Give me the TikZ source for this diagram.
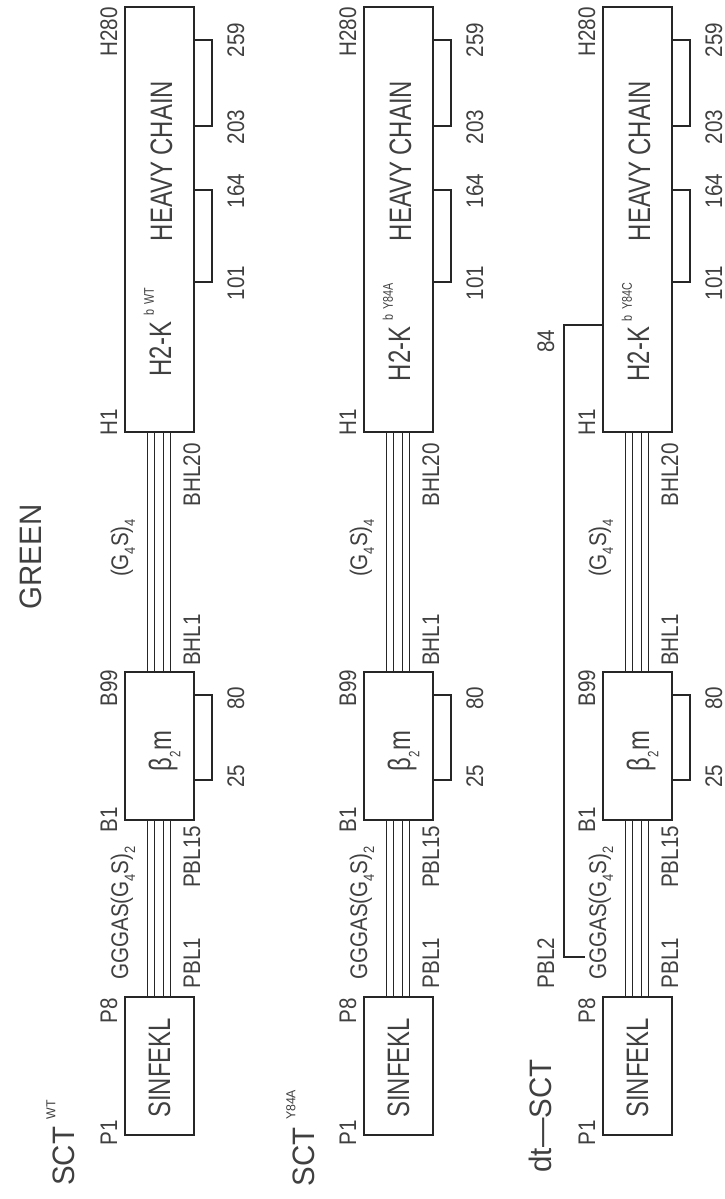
\documentclass[tikz,border=0pt]{standalone}
\usepackage{fontspec}
\setmainfont{Liberation Sans}
\usepackage{graphicx}
\newcommand{\sml}[1]{\scalebox{0.86}[1]{\fontsize{24}{24}\selectfont #1}}
\newcommand{\mnl}[1]{\scalebox{0.77}[1]{\fontsize{31}{31}\selectfont #1}}
\newcommand{\ttl}[1]{\scalebox{0.95}[1]{\fontsize{31}{31}\selectfont #1}}
\newcommand{\lowr}[1]{\raisebox{-0.3em}{\fontsize{15}{15}\selectfont #1}}
\newcommand{\uppr}[1]{\raisebox{0.55em}{\fontsize{14}{14}\selectfont #1}}
\begin{document}
\begin{tikzpicture}[x=1pt,y=-1pt,
  lbl/.style={rotate=90, inner sep=0pt, anchor=base, text=black!75},
  box/.style={draw=black!85, line width=1.3pt, inner sep=0pt},
  lnk/.style={draw=black!85, line width=1pt}]
\useasboundingbox (0,0) rectangle (725,1199);
\foreach \r/\L/\mut in {1/125/WT,2/364/Y84A,3/603/Y84C}{
  \node[box, minimum width=69pt, minimum height=425pt] (hc\r) at (\L+34.5,219.5) {};
  \node[box, minimum width=69pt, minimum height=148pt] (bm\r) at (\L+34.5,746) {};
  \node[box, minimum width=69pt, minimum height=138pt] (sn\r) at (\L+34.5,1066) {};
  \foreach \dx in {23,30,39,46}{
    \draw[lnk] ([xshift=\dx pt]hc\r.south west) -- ([xshift=\dx pt]bm\r.north west);
    \draw[lnk] ([xshift=\dx pt]bm\r.south west) -- ([xshift=\dx pt]sn\r.north west);
  }
  \draw[box] (\L+69,40) -- (\L+87,40) -- (\L+87,126) -- (\L+69,126);
  \draw[box] (\L+69,190) -- (\L+87,190) -- (\L+87,282) -- (\L+69,282);
  \draw[box] (\L+69,695) -- (\L+87,695) -- (\L+87,780) -- (\L+69,780);
  % left position labels
  \node[lbl] (h280\r) at (\L-8,32) {\sml{H280}};
  \node[lbl] (h1\r) at (\L-8,422) {\sml{H1}};
  \node[lbl] (b99\r) at (\L-8,688) {\sml{B99}};
  \node[lbl] (b1\r) at (\L-8,820) {\sml{B1}};
  \node[lbl] (p8\r) at (\L-8,1011) {\sml{P8}};
  \node[lbl] (p1\r) at (\L-8,1133) {\sml{P1}};
  % right labels
  \node[lbl] (bhl20\r) at (\L+75,475) {\sml{BHL20}};
  \node[lbl] (bhl1\r) at (\L+75,640) {\sml{BHL1}};
  \node[lbl] (pbl15\r) at (\L+75,857) {\sml{PBL15}};
  \node[lbl] (pbl1\r) at (\L+75,963) {\sml{PBL1}};
  % numbers
  \node[lbl] (n259\r) at (\L+119,40) {\sml{259}};
  \node[lbl] (n203\r) at (\L+119,127) {\sml{203}};
  \node[lbl] (n164\r) at (\L+119,191) {\sml{164}};
  \node[lbl] (n101\r) at (\L+119,283) {\sml{101}};
  \node[lbl] (n80\r) at (\L+119,698) {\sml{80}};
  \node[lbl] (n25\r) at (\L+119,776) {\sml{25}};
  % main labels
  \node[lbl] (hct\r) at (\L+47,161) {\mnl{HEAVY CHAIN}};
  \node[lbl] (hkt\r) at (\L+46,332) {\mnl{H2-K\hspace{0.25em}\uppr{b\hspace{0.5em}\mut}}};
  \node[lbl] (bmt\r) at (\L+46,751) {\mnl{β\lowr{2}m}};
  \node[lbl] (snt\r) at (\L+45,1068) {\mnl{SINFEKL}};
  % linker labels
  \node[lbl] (g4\r) at (\L+3,548) {\sml{(G\lowr{4}S)\lowr{4}}};
  \node[lbl] (g2\r) at (\L+3,913) {\sml{GGGAS(G\lowr{4}S)\lowr{2}}};
}
% titles
\node[lbl] (title) at (41,557) {\ttl{GREEN}};
\node[lbl] (t1) at (74,1143) {\ttl{SCT\hspace{0.25em}\raisebox{0.6em}{\fontsize{13}{13}\selectfont WT}}};
\node[lbl] (t2) at (314,1138) {\ttl{SCT\hspace{0.25em}\raisebox{0.6em}{\fontsize{13}{13}\selectfont Y84A}}};
\node[lbl] (t3) at (551,1116) {\ttl{dt—SCT}};
% disulfide trap tether (row 3)
\coordinate (ta) at (hc3.west |- 0,325);
\coordinate (tb) at (564,325);
\coordinate (tc) at (564,957);
\coordinate (td) at (585,957);
\draw[box] (ta) -- (tb) -- (tc) -- (td);
\node[lbl] (l84) at (554,341) {\sml{84}};
\node[lbl] (lpbl2) at (554,963) {\sml{PBL2}};
\end{tikzpicture}
\end{document}
